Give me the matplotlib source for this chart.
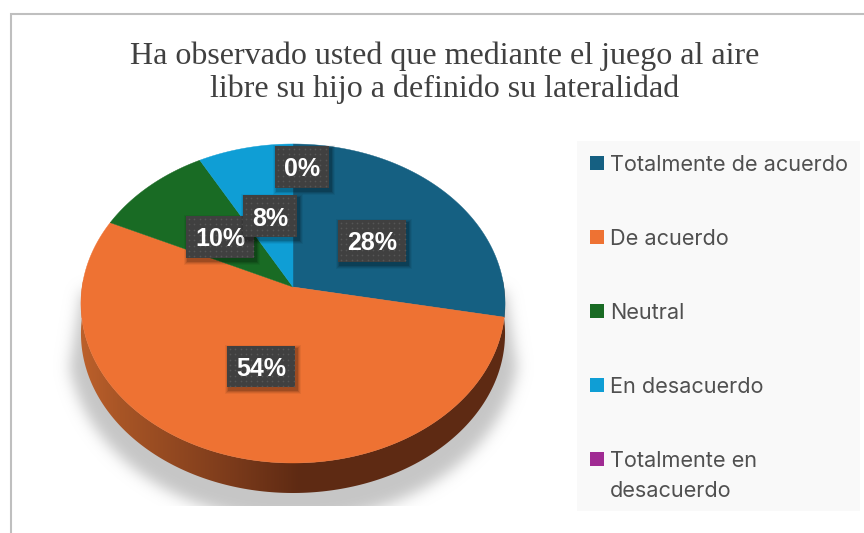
import matplotlib
matplotlib.use('Agg')
import matplotlib.pyplot as plt
import matplotlib.patches as patches
import numpy as np

title = "Ha observado usted que mediante el juego al aire\nlibre su hijo a definido su lateralidad"
categories = ["Totalmente de acuerdo", "De acuerdo", "Neutral", "En desacuerdo", "Totalmente en\ndesacuerdo"]
values = [28, 54, 10, 8, 0]
labels = ["28%", "54%", "10%", "8%", "0%"]
colors = ['#156082', '#EE7233', '#196B24', '#0F9ED5', '#A02B93']

W, H = 864, 533
fig = plt.figure(figsize=(W / 100, H / 100), dpi=100, facecolor='white')
ax = fig.add_axes([0, 0, 1, 1])
ax.set_xlim(0, W)
ax.set_ylim(H, 0)
ax.axis('off')

# pie geometry in pixels, tilted with a small perspective
cx, cy = 293, 287
A, B, k = 210.9, 157.8, 0.1034
depth = 30


def project(theta):
    x = np.sin(theta)
    v = np.cos(theta)
    s = 1 / (1 + k * v)
    return cx + A * x * s, cy - B * v * s


def blur(img, sigma):
    n = int(sigma * 3)
    g = np.exp(-0.5 * (np.arange(-n, n + 1) / sigma) ** 2)
    g /= g.sum()
    img = np.apply_along_axis(lambda m: np.convolve(m, g, mode='same'), 0, img)
    return np.apply_along_axis(lambda m: np.convolve(m, g, mode='same'), 1, img)


# soft shadow under the pie, tapered towards the top and cut at the bottom
yy, xx = np.mgrid[0:H, 0:W]
shape = ((xx - 293) / 226.0) ** 2 + ((yy - 342) / 178.0) ** 2 < 1
edge_l = 80 - np.clip(yy - 300, 0, 80) * 13 / 80
edge_r = 506 + np.clip(yy - 300, 0, 80) * 13 / 80
shape = shape & (xx > edge_l) & (xx < edge_r) & (yy > 290)
shadow = blur(shape.astype(float), 7)
shadow[yy > 505] = 0
rgba = np.zeros((H, W, 4))
rgba[..., :3] = 0.78
rgba[..., 3] = shadow
ax.imshow(rgba, extent=(0, W, H, 0), zorder=1, aspect='auto')

# side of the cylinder, shaded from left to right
side_col = np.array([[0xBC, 0x60, 0x2B], [0xA8, 0x55, 0x26], [0x7C, 0x3B, 0x1B], [0x5E, 0x2A, 0x13], [0x5E, 0x2A, 0x13]]) / 255
side_pos = np.array([81, 120, 230, 300, 505])
xs = np.linspace(78, 508, 430)
side = np.zeros((1, 430, 3))
for c in range(3):
    side[0, :, c] = np.interp(xs, side_pos, side_col[:, c])
im = ax.imshow(side, extent=(78, 508, 500, 280), zorder=2, aspect='auto')
low = np.linspace(np.deg2rad(85), np.deg2rad(275), 200)
lx, ly = project(low)
body = np.vstack([np.column_stack([lx, ly]), np.column_stack([lx, ly + depth])[::-1]])
clip = patches.Polygon(body, closed=True, transform=ax.transData, fc='none', ec='none')
ax.add_patch(clip)
im.set_clip_path(clip)

# top face, one polygon per category
start = 0.0
total = sum(values)
for val, col in zip(values, colors):
    stop = start + val / total * 2 * np.pi
    if val > 0:
        th = np.linspace(start, stop, max(int(val * 8), 8))
        px, py = project(th)
        poly = np.column_stack([np.r_[cx, px], np.r_[cy, py]])
        ax.add_patch(patches.Polygon(poly, closed=True, fc=col, ec=col, lw=0.3, zorder=3))
    start = stop

# data labels: dark dotted boxes with soft shadow
boxes = {"28%": (338, 220, 68, 42), "54%": (227, 346, 68, 41), "10%": (186, 216, 68, 42),
         "8%": (243, 195, 54, 42), "0%": (275, 146, 54, 42)}
draw_order = ["0%", "28%", "54%", "10%", "8%"]
for z, lab in enumerate(draw_order):
    x0, y0, w, h = boxes[lab]
    zb = 5 + z
    for grow, al in [(4, 0.05), (3, 0.08), (2, 0.10), (1, 0.14)]:
        ax.add_patch(patches.Rectangle((x0 + 2 - grow, y0 + 3 - grow), w + 2 * grow, h + 2 * grow,
                                       fc='black', ec='none', alpha=al, zorder=zb))
    ax.add_patch(patches.Rectangle((x0, y0), w, h, fc='#404040', ec='none', zorder=zb))
    gx, gy = np.meshgrid(np.arange(x0 + 3, x0 + w, 5.3), np.arange(y0 + 3, y0 + h, 5.3))
    ax.scatter(gx.ravel(), gy.ravel(), s=1.5, c='#565656', linewidths=0, zorder=zb)
    ax.text(x0 + w / 2, y0 + h / 2 + 2.5, lab, ha='center', va='center', color='white',
            fontsize=18, fontweight='bold', family='Liberation Sans', zorder=zb)

# chart frame
ax.plot([10.5, 10.5, 864], [532, 13.5, 13.5], color='#BFBFBF', lw=1.5, zorder=0, solid_joinstyle='miter')

ax.text(445, 73, title, ha='center', va='center', fontsize=23, color='#404040',
        family='Liberation Serif', linespacing=1.17, zorder=4)

# legend
ax.add_patch(patches.Rectangle((577, 141), 283, 370, fc='#F9F9F9', ec='none', zorder=1))
leg_y = [163, 237, 311, 385, 459]
for cat, col, y in zip(categories, colors, leg_y):
    ax.add_patch(patches.Rectangle((590, y - 7), 14, 14, fc=col, ec='none', zorder=2))
    ax.text(610, y - 8, cat, ha='left', va='top', fontsize=15.6, color='#505050',
            family='Inter', linespacing=1.6, zorder=2)

fig.savefig('out.png', dpi=100, facecolor='white')
